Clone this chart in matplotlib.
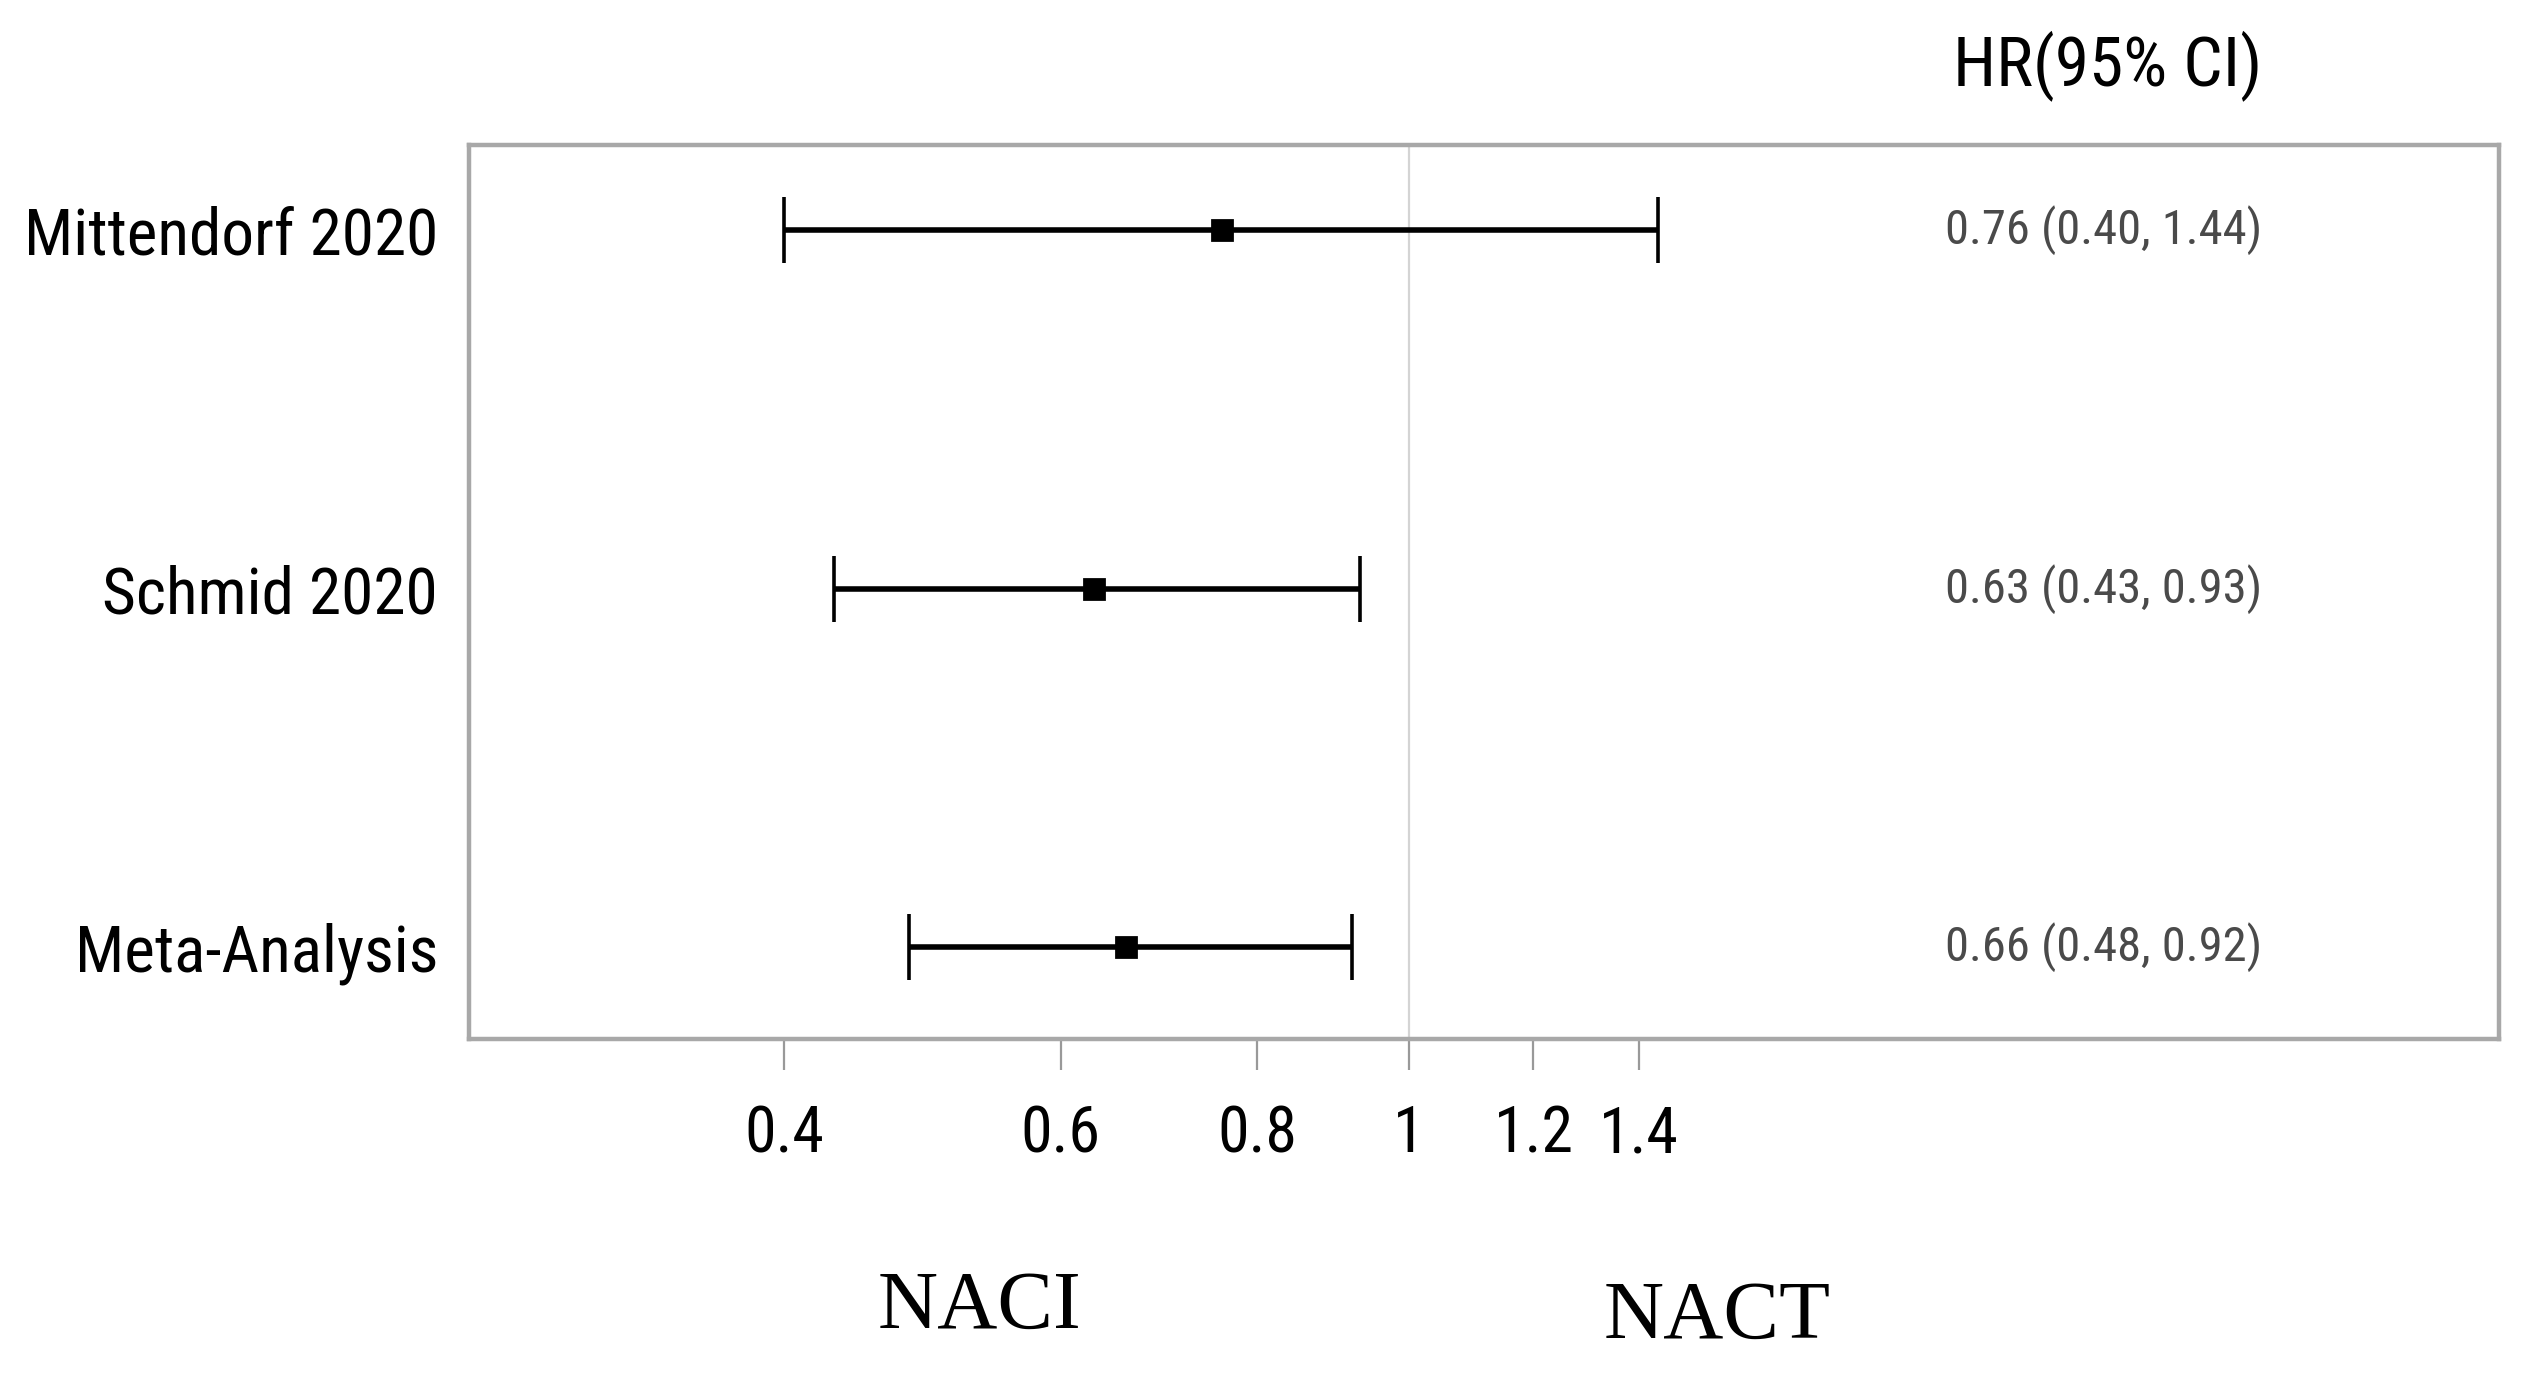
import matplotlib
matplotlib.use("Agg")
import matplotlib.pyplot as plt
from matplotlib.ticker import FixedLocator, NullLocator

# donnees du forest plot
etudes = ["Mittendorf 2020", "Schmid 2020", "Meta-Analysis"]
hr = [0.76, 0.63, 0.66]
ci_bas = [0.40, 0.43, 0.48]
ci_haut = [1.44, 0.93, 0.92]
hr_txt = ["0.76 (0.40, 1.44)", "0.63 (0.43, 0.93)", "0.66 (0.48, 0.92)"]
ticks = [0.4, 0.6, 0.8, 1, 1.2, 1.4]
tick_lbl = ["0.4", "0.6", "0.8", "1", "1.2", "1.4"]

SANS = ["Roboto Condensed", "Noto Sans Condensed", "Liberation Sans Narrow", "Roboto"]
SERIF = ["Liberation Serif", "DejaVu Serif"]

fig = plt.figure(figsize=(12.625, 6.92), dpi=200)
ax = fig.add_axes([0.1856, 0.2491, 0.8042, 0.6461])

ypos = [3, 2, 1]
ax.axvline(1, color="#d4d4d4", lw=0.8, zorder=1)

for k in range(len(etudes)):
    ax.errorbar(hr[k], ypos[k],
                xerr=[[hr[k] - ci_bas[k]], [ci_haut[k] - hr[k]]],
                fmt="s", color="black", ms=7.5, elinewidth=2.0,
                capsize=12, capthick=1.3, zorder=3)
    ax.text(0.8834, ypos[k], hr_txt[k], transform=ax.get_yaxis_transform(),
            ha="right", va="center", fontsize=17.5, color="#4a4a4a", family=SANS)

ax.set_xscale("log")
ax.set_xlim(0.2518, 4.946)
ax.set_ylim(0.744, 3.238)

ax.xaxis.set_major_locator(FixedLocator(ticks))
ax.xaxis.set_minor_locator(NullLocator())
ax.set_xticklabels(tick_lbl, family=SANS, fontsize=23)
ax.tick_params(axis="x", direction="out", length=11, width=0.8,
               color="#999999", pad=12)

ax.set_yticks(ypos)
ax.set_yticklabels(etudes, family=SANS, fontsize=23.5)
ax.tick_params(axis="y", length=0, pad=11)

for s in ax.spines.values():
    s.set_color("#a8a8a8")
    s.set_linewidth(1.6)

fig.text(0.896, 0.953, "HR(95% CI)", ha="right", va="center",
         fontsize=25, family=SANS)
fig.text(0.3878, 0.055, "NACI", ha="center", va="center",
         fontsize=30, family=SERIF)
fig.text(0.680, 0.048, "NACT", ha="center", va="center",
         fontsize=30, family=SERIF)

fig.savefig("out.png", dpi=200)
